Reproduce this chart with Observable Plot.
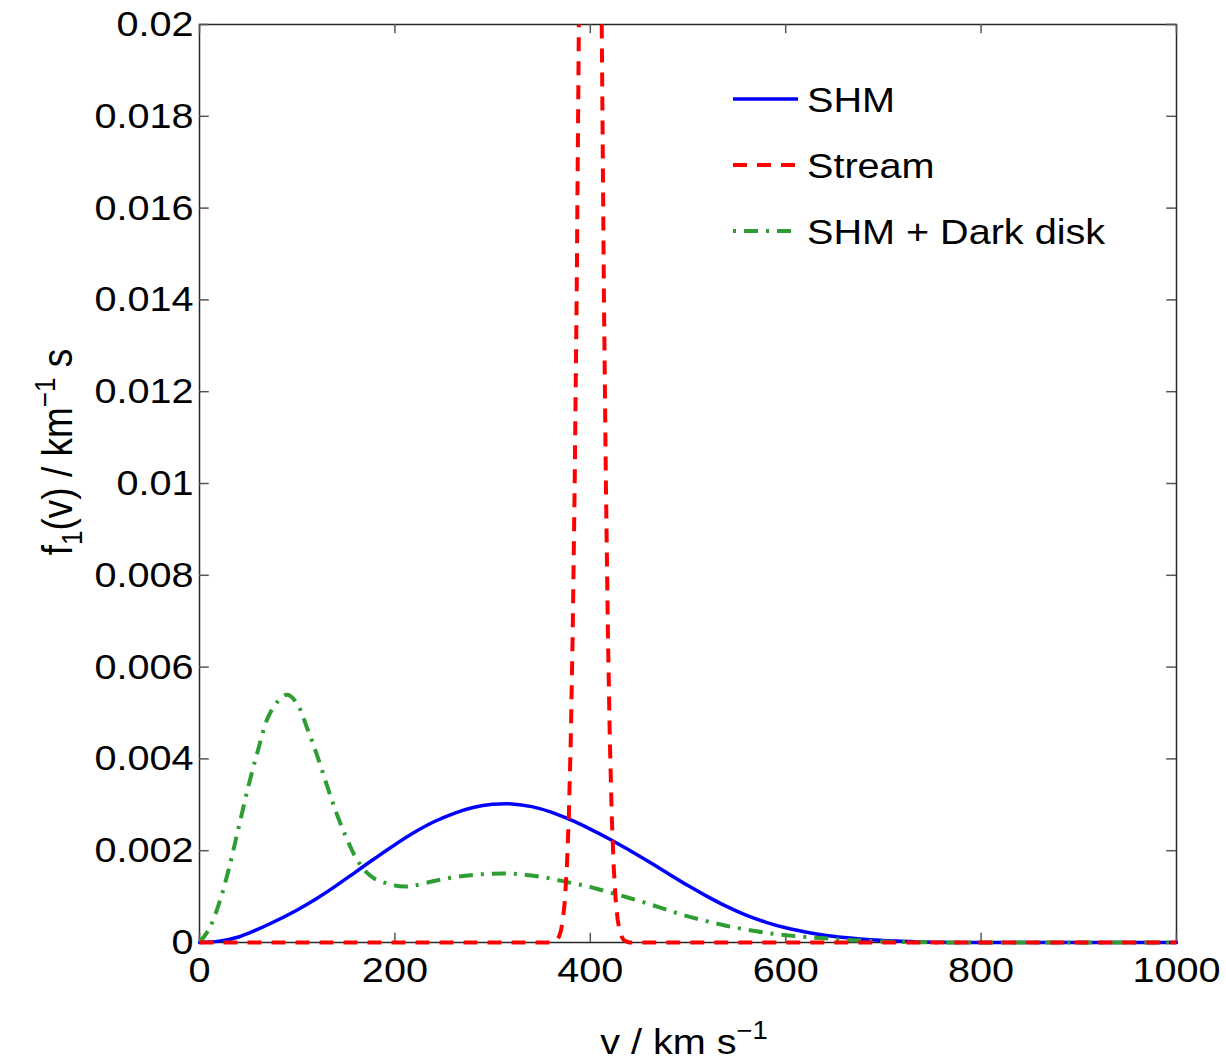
<!DOCTYPE html>
<html>
<head>
<meta charset="utf-8">
<script src="https://cdn.jsdelivr.net/npm/d3@7"></script>
<script src="https://cdn.jsdelivr.net/npm/@observablehq/plot@0.6"></script>
<style>
  html, body { margin: 0; padding: 0; background: #fff; }
  #chart { width: 1226px; height: 1062px; }
</style>
</head>
<body>
<div id="chart"></div>
<script>
// ---- tick values / labels ----
const xTicks = [0, 200, 400, 600, 800, 1000];
const yTicks = [0, 0.002, 0.004, 0.006, 0.008, 0.01, 0.012, 0.014, 0.016, 0.018, 0.02];
const yTickLabels = ["0", "0.002", "0.004", "0.006", "0.008", "0.01", "0.012", "0.014", "0.016", "0.018", "0.02"];

// ---- series names ----
const seriesNames = ["SHM", "Stream", "SHM + Dark disk"];

// ---- SHM ----
const shmV = [0,20,40,60,80,100,120,140,160,180,200,220,240,260,280,300,320,340,360,380,400,420,440,460,480,500,520,540,560,580,600,620,640,660,680,700,720,740,760,780,800,900,1000];
const shmF = [0,0.00003,0.00012,0.00029,0.00049,0.00071,0.00096,0.00124,0.00154,0.00184,0.00213,0.0024,0.00263,0.00281,0.00294,0.00301,0.00302,0.00296,0.00284,0.00267,0.00247,0.00225,0.00201,0.00176,0.0015,0.00124,0.001,0.00078,0.00059,0.00044,0.00032,0.00023,0.00016,0.00011,0.00007,0.000045,0.000025,0.000012,0.000004,0,0,0,0];

// ---- Stream (leaves the top of the frame between ~388 and ~412) ----
const streamV = [0,360,364,366,368,370,372,374,376,378,380,382,384,386,388.3,400,411.7,414,416,418,420,422,424,426,428,430,432,434,436,440,1000];
const streamF = [0,0,0.00003,0.00006,0.00013,0.00026,0.0005,0.00092,0.00163,0.00274,0.00441,0.00678,0.00996,0.01398,0.02,null,0.02,0.01398,0.00996,0.00678,0.00441,0.00274,0.00163,0.00092,0.0005,0.00026,0.00013,0.00006,0.00003,0,0];

// ---- SHM + Dark disk ----
const diskV = [0,10,20,30,40,50,60,70,80,90,100,110,120,130,140,150,160,170,180,190,200,210,220,240,260,280,300,320,340,360,380,400,420,440,460,480,500,520,540,560,580,600,620,640,660,680,700,720,740,760,800,900,1000];
const diskF = [0,0.0003,0.00085,0.0016,0.0025,0.0034,0.0042,0.0049,0.00525,0.0054,0.0052,0.00468,0.0041,0.00345,0.00283,0.0023,0.00185,0.00155,0.00138,0.0013,0.00124,0.00122,0.00124,0.00134,0.00142,0.00147,0.0015,0.0015,0.00146,0.00139,0.0013,0.00121,0.00109,0.00097,0.00084,0.0007,0.00057,0.00046,0.00036,0.00028,0.00021,0.00016,0.00012,0.00009,0.00006,0.00004,0.00002,0.00001,0.000005,0,0,0,0];

const shm = shmV.map((v, i) => ({v, f: shmF[i]}));
const stream = streamV.map((v, i) => ({v, f: streamF[i]}));
const disk = diskV.map((v, i) => ({v, f: diskF[i]}));

const colors = {shm: "#0000ff", stream: "#ff0000", disk: "#2e9e32"};
const dash = {stream: "14,10", disk: "14,8,3,8"};
const FONT = "'Liberation Sans', Arial, Helvetica, sans-serif";
const STRETCH = 1.1;

const svg = Plot.plot({
  width: 1226,
  height: 1062,
  marginLeft: 199,
  marginRight: 50,
  marginTop: 24,
  marginBottom: 120,
  style: {background: "#fff", color: "#000", fontFamily: FONT, fontSize: "36px"},
  x: {domain: [0, 1000]},
  y: {domain: [0, 0.02]},
  marks: [
    Plot.frame({stroke: "#262626", strokeWidth: 1.5}),
    // inward ticks (bottom/top/left/right)
    Plot.ruleX(xTicks, {x: d => d, y1: 0, y2: 0.0002, stroke: "#555", strokeWidth: 1.5}),
    Plot.ruleX(xTicks, {x: d => d, y1: 0.02, y2: 0.0198, stroke: "#555", strokeWidth: 1.5}),
    Plot.ruleY(yTicks, {y: d => d, x1: 0, x2: 10, stroke: "#555", strokeWidth: 1.5}),
    Plot.ruleY(yTicks, {y: d => d, x1: 990, x2: 1000, stroke: "#555", strokeWidth: 1.5}),
    Plot.axisX({ticks: xTicks, tickSize: 0, tickPadding: 14, fontSize: 36, label: null, tickFormat: d => String(d)}),
    Plot.axisY({ticks: yTicks, tickSize: 0, tickPadding: 6, fontSize: 36, label: null,
                tickFormat: d => yTickLabels[yTicks.indexOf(d)]}),
    Plot.line(shm, {x: "v", y: "f", stroke: colors.shm, strokeWidth: 3.5, curve: "catmull-rom"}),
    Plot.line(disk, {x: "v", y: "f", stroke: colors.disk, strokeWidth: 4, strokeDasharray: dash.disk,
                     strokeLinecap: "butt", curve: "catmull-rom"}),
    Plot.line(stream, {x: "v", y: "f", stroke: colors.stream, strokeWidth: 4, strokeDasharray: dash.stream,
                       strokeLinecap: "butt"})
  ]
});

document.getElementById("chart").appendChild(svg);

// stretch tick labels slightly horizontally (reference text is wide)
svg.querySelectorAll('g[aria-label="x-axis tick label"] text, g[aria-label="y-axis tick label"] text').forEach(el => {
  const t = el.getAttribute("transform");
  if (t) el.setAttribute("transform", t + ` scale(${STRETCH},1)`);
  else {
    const x = parseFloat(el.getAttribute("x")) || 0;
    el.setAttribute("transform", `translate(${x},0) scale(${STRETCH},1) translate(${-x},0)`);
  }
});

const s = d3.select(svg);

// x axis title: v / km s^-1
const xt = s.append("text")
  .attr("transform", `translate(684,1054) scale(${STRETCH},1)`)
  .attr("text-anchor", "middle")
  .attr("font-family", FONT).attr("font-size", 36).attr("fill", "#000");
xt.append("tspan").text("v / km s");
xt.append("tspan").attr("font-size", 25).attr("dy", -15).text("\u22121");

// y axis title: f_1(v) / km^-1 s
const yt = s.append("text")
  .attr("transform", `translate(72,452) scale(1.15,1) rotate(-90)`)
  .attr("text-anchor", "middle")
  .attr("font-family", FONT).attr("font-size", 37).attr("fill", "#000");
yt.append("tspan").text("f");
yt.append("tspan").attr("font-size", 26).attr("dy", 9).text("1");
yt.append("tspan").attr("dy", -9).text("(v) / km");
yt.append("tspan").attr("font-size", 26).attr("dy", -15).text("\u22121");
yt.append("tspan").attr("dy", 15).text(" s");

// legend
const leg = s.append("g").attr("aria-label", "legend");
const legRows = [
  {name: seriesNames[0], color: colors.shm, dash: null, y: 99, w: 3.5},
  {name: seriesNames[1], color: colors.stream, dash: "14,10", y: 165, w: 4},
  {name: seriesNames[2], color: colors.disk, dash: "3,8,14,8", y: 231, w: 4}
];
legRows.forEach(r => {
  leg.append("line")
    .attr("x1", 733).attr("x2", 798).attr("y1", r.y).attr("y2", r.y)
    .attr("stroke", r.color).attr("stroke-width", r.w)
    .attr("stroke-dasharray", r.dash);
  leg.append("text")
    .attr("transform", `translate(807,${r.y}) scale(${STRETCH},1)`)
    .attr("text-anchor", "start")
    .attr("dy", "0.35em")
    .attr("font-family", FONT).attr("font-size", 36).attr("fill", "#000")
    .text(r.name);
});
</script>
</body>
</html>
